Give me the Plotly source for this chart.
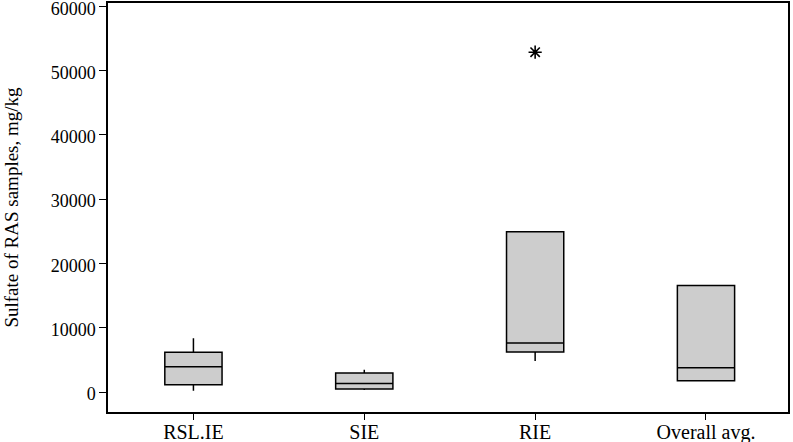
import plotly.graph_objects as go

categories = ["RSL.IE", "SIE", "RIE", "Overall avg."]
lower_whisker = [200, 310, 4830, 1760]
q1_values = [1140, 470, 6230, 1760]
medians = [3950, 1350, 7630, 3790]
q3_values = [6180, 2960, 24920, 16560]
upper_whisker = [8360, 3480, 24920, 16560]
outlier_category = ["RIE"]
outlier_values = [52850]
y_ticks = [0, 10000, 20000, 30000, 40000, 50000, 60000]

FONT = "Liberation Serif, Times New Roman, serif"

fig = go.Figure()
fig.add_trace(go.Box(
    x=categories,
    q1=q1_values,
    median=medians,
    q3=q3_values,
    lowerfence=lower_whisker,
    upperfence=upper_whisker,
    boxpoints=False,
    width=0.335,
    whiskerwidth=0,
    fillcolor="#cdcdcd",
    line=dict(color="black", width=1.5),
    showlegend=False,
    hoverinfo="skip",
))
fig.add_trace(go.Scatter(
    x=outlier_category,
    y=outlier_values,
    mode="markers",
    marker=dict(symbol="asterisk-open", size=11, color="black",
                line=dict(color="black", width=1.6)),
    showlegend=False,
    hoverinfo="skip",
))

fig.update_layout(
    width=793, height=442,
    margin=dict(l=108, r=5, t=3, b=30),
    plot_bgcolor="white", paper_bgcolor="white",
    font=dict(family=FONT, size=18, color="black"),
)
fig.update_xaxes(
    type="category", categoryorder="array", categoryarray=categories,
    range=[-0.5, 3.48],
    automargin=False,
    showline=True, linecolor="black", linewidth=1.5, mirror=True,
    ticks="outside", ticklen=6, tickwidth=1.3, tickcolor="black",
    showgrid=False, zeroline=False,
    ticklabeloverflow="allow",
    ticklabelstandoff=-5,
    tickfont=dict(family=FONT, size=20),
)
fig.update_yaxes(
    range=[-3100, 60500],
    automargin=False,
    tickvals=y_ticks, ticktext=[str(v) for v in y_ticks],
    showline=True, linecolor="black", linewidth=1.5, mirror=True,
    ticks="outside", ticklen=7, tickwidth=1.3, tickcolor="black",
    showgrid=False, zeroline=False,
    ticklabeloverflow="allow",
    ticklabelshift=2,
    tickfont=dict(family=FONT, size=18),
    title=dict(text="Sulfate of RAS samples, mg/kg", standoff=27,
               font=dict(family=FONT, size=19)),
)

fig.write_html(
    "out.html",
    config={"displayModeBar": False},
    post_script="document.body.style.margin='0';document.body.style.overflow='hidden';",
)
